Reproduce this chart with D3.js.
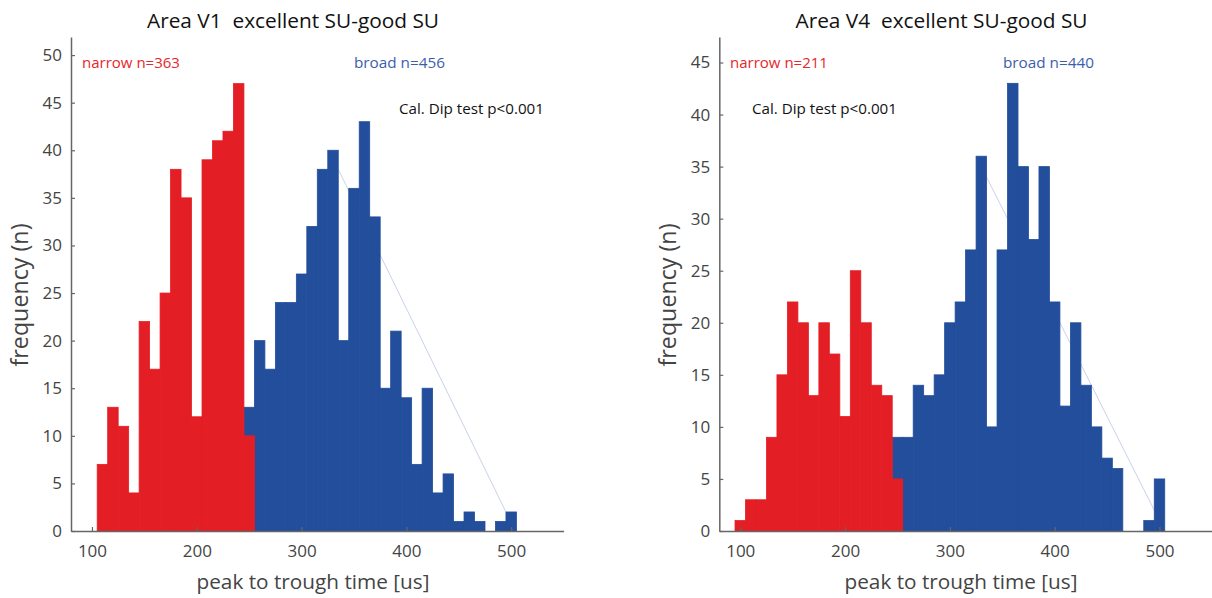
<!DOCTYPE html>
<html>
<head>
<meta charset="utf-8">
<script src="https://cdn.jsdelivr.net/npm/d3@7"></script>
<style>
  html, body { margin: 0; padding: 0; background: #fff; }
  svg { display: block; font-family: "Open Sans", "Noto Sans", sans-serif; }
  text { white-space: pre; }
</style>
</head>
<body>
<svg id="chart" width="1212" height="598"></svg>
<script>
// Spike waveform peak-to-trough histograms (10 us bins, labelled by bin centre)

// Area V1
const v1NarrowBins   = [110, 120, 130, 140, 150, 160, 170, 180, 190, 200, 210, 220, 230, 240, 250];
const v1NarrowCounts = [7, 13, 11, 4, 22, 17, 25, 38, 35, 12, 39, 41, 42, 47, 10];
const v1BroadBins    = [250, 260, 270, 280, 290, 300, 310, 320, 330, 340, 350, 360, 370, 380, 390,
                        400, 410, 420, 430, 440, 450, 460, 470, 480, 490, 500];
const v1BroadCounts  = [13, 20, 17, 24, 24, 27, 32, 38, 40, 20, 36, 43, 33, 15, 21,
                        14, 7, 15, 4, 6, 1, 2, 1, 0, 1, 2];
const v1GuideX = [335, 495];
const v1GuideY = [38, 2];

// Area V4
const v4NarrowBins   = [100, 110, 120, 130, 140, 150, 160, 170, 180, 190, 200, 210, 220, 230, 240, 250];
const v4NarrowCounts = [1, 3, 3, 9, 15, 22, 20, 13, 20, 17, 11, 25, 20, 14, 13, 5];
const v4BroadBins    = [250, 260, 270, 280, 290, 300, 310, 320, 330, 340, 350, 360, 370, 380, 390,
                        400, 410, 420, 430, 440, 450, 460, 470, 480, 490, 500];
const v4BroadCounts  = [9, 9, 14, 13, 15, 20, 22, 27, 36, 10, 27, 43, 35, 28, 35,
                        22, 12, 20, 14, 10, 7, 6, 0, 0, 1, 5];
const v4GuideX = [335, 495];
const v4GuideY = [34, 2];

// Axis ticks
const xTicks = [100, 200, 300, 400, 500];
const v1YTicks = [0, 5, 10, 15, 20, 25, 30, 35, 40, 45, 50];
const v4YTicks = [0, 5, 10, 15, 20, 25, 30, 35, 40, 45];

const BIN_WIDTH = 10;
const RED = "#e41e25";
const BLUE = "#224e9b";

const svg = d3.select("#chart");

// size a label so that its rendered run length equals `width` px
function fitText(sel, width) {
  const base = 16;
  sel.style("font-size", base + "px");
  const w = sel.node().getComputedTextLength();
  sel.style("font-size", (base * width / w).toFixed(2) + "px");
  return sel;
}

function panel(cfg) {
  const x = d3.scaleLinear().domain([80, 550]).range([cfg.left, cfg.left + 492.6]);
  const y = d3.scaleLinear().domain([0, cfg.yMax]).range([531, 37]);
  const g = svg.append("g");

  // faint guide line, drawn beneath the bars
  g.append("line")
    .attr("x1", x(cfg.guideX[0])).attr("y1", y(cfg.guideY[0]))
    .attr("x2", x(cfg.guideX[1])).attr("y2", y(cfg.guideY[1]))
    .attr("stroke", "#c9d2ea").attr("stroke-width", 1);

  const bars = (bins, counts, color) => {
    const data = bins.map((b, i) => ({ b, c: counts[i] }));
    g.append("g").selectAll("rect").data(data.filter(d => d.c > 0)).join("rect")
      .attr("x", d => x(d.b - BIN_WIDTH / 2))
      .attr("width", d => x(d.b + BIN_WIDTH / 2) - x(d.b - BIN_WIDTH / 2))
      .attr("y", d => y(d.c))
      .attr("height", d => y(0) - y(d.c))
      .attr("fill", color)
      .attr("stroke", color)
      .attr("stroke-width", 0.8);
  };
  bars(cfg.broadBins, cfg.broadCounts, BLUE);
  bars(cfg.narrowBins, cfg.narrowCounts, RED);

  // axes, ticks pointing inward
  const xAxis = g.append("g").attr("transform", `translate(0,${y(0)})`)
    .call(d3.axisBottom(x).tickValues(xTicks).tickSizeInner(-4).tickSizeOuter(0).tickPadding(14));
  const yAxis = g.append("g").attr("transform", `translate(${x(80)},0)`)
    .call(d3.axisLeft(y).tickValues(cfg.yTicks).tickSizeInner(-4).tickSizeOuter(0).tickPadding(9));
  [xAxis, yAxis].forEach(a => {
    a.select(".domain").attr("stroke", "#666").attr("stroke-width", 1.5);
    a.selectAll(".tick line").attr("stroke", "#666").attr("stroke-width", 1.2);
    a.selectAll(".tick text").attr("fill", "#444").style("font-size", "17px")
      .style("font-family", "'Open Sans', 'Noto Sans', sans-serif");
  });

  // titles and labels
  fitText(g.append("text").attr("x", cfg.titleX).attr("y", 28).attr("text-anchor", "middle")
    .attr("fill", "#111").text(cfg.title), 292);
  fitText(g.append("text").attr("x", cfg.xLabelX).attr("y", 589).attr("text-anchor", "middle")
    .attr("fill", "#444").text("peak to trough time [us]"), 233);
  fitText(g.append("text").attr("transform", `translate(${cfg.left - 43},${295}) rotate(-90)`)
    .attr("text-anchor", "middle").attr("fill", "#444")
    .text("frequency (n)"), 143);

  fitText(g.append("text").attr("x", cfg.narrowX).attr("y", 68).attr("fill", "#e8262b")
    .text(cfg.narrowLabel), 98);
  fitText(g.append("text").attr("x", cfg.broadX).attr("y", 68).attr("fill", "#3b5eab")
    .text(cfg.broadLabel), 91);
  fitText(g.append("text").attr("x", cfg.dipX).attr("y", 114).attr("fill", "#111")
    .text("Cal. Dip test p<0.001"), 145);
}

panel({
  left: 71, yMax: 51.9, yTicks: v1YTicks,
  narrowBins: v1NarrowBins, narrowCounts: v1NarrowCounts,
  broadBins: v1BroadBins, broadCounts: v1BroadCounts,
  guideX: v1GuideX, guideY: v1GuideY,
  title: "Area V1  excellent SU-good SU", titleX: 293, xLabelX: 313,
  narrowLabel: "narrow n=363", narrowX: 82,
  broadLabel: "broad n=456", broadX: 354,
  dipX: 399
});

panel({
  left: 719.3, yMax: 47.45, yTicks: v4YTicks,
  narrowBins: v4NarrowBins, narrowCounts: v4NarrowCounts,
  broadBins: v4BroadBins, broadCounts: v4BroadCounts,
  guideX: v4GuideX, guideY: v4GuideY,
  title: "Area V4  excellent SU-good SU", titleX: 941.5, xLabelX: 961,
  narrowLabel: "narrow n=211", narrowX: 730,
  broadLabel: "broad n=440", broadX: 1003,
  dipX: 752
});
</script>
</body>
</html>
